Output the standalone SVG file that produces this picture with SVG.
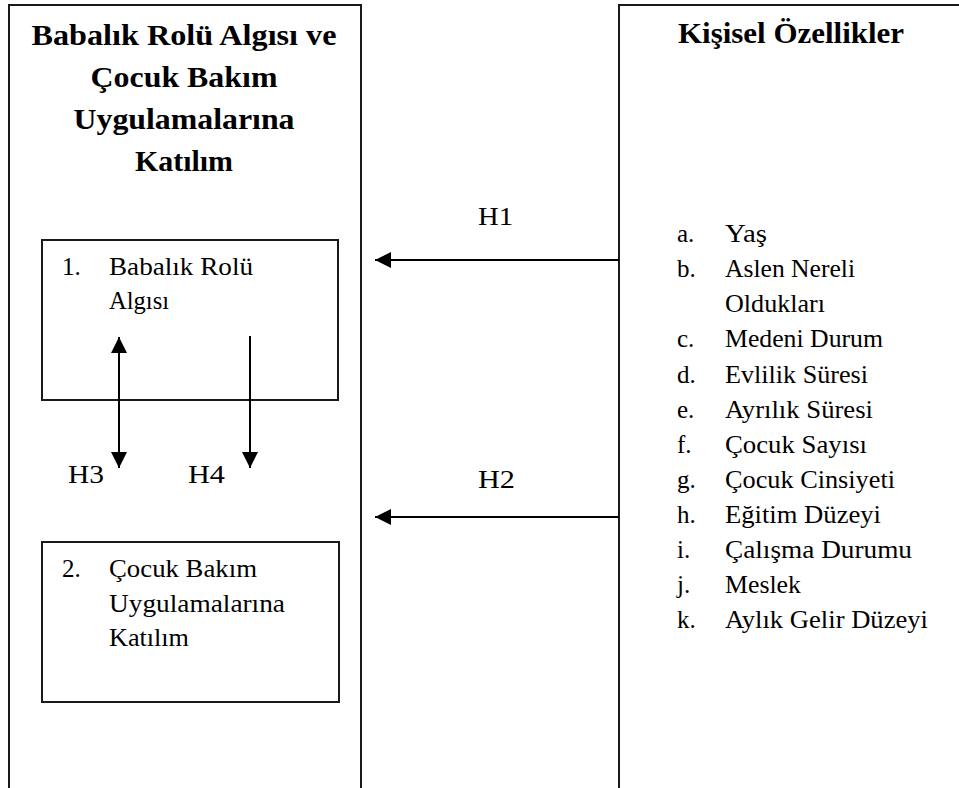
<svg xmlns="http://www.w3.org/2000/svg" width="959" height="788" viewBox="0 0 959 788" font-family="'Liberation Serif', 'DejaVu Serif', serif">
<style>
.box{fill:none;stroke:#1a1a1a;stroke-width:2}
.ln{stroke:#000;stroke-width:2;fill:none}
.t{fill:#000;font-size:25px}
.title{fill:#000;font-size:29px;font-weight:bold;text-anchor:middle}
</style>
<defs>
<marker id="ah" viewBox="0 0 16 16" refX="16" refY="8" markerWidth="16" markerHeight="16" markerUnits="userSpaceOnUse" orient="auto-start-reverse">
<path d="M0,0 L16,8 L0,16 Z" fill="#000"/>
</marker>
</defs>
<rect width="959" height="788" fill="#fff"/>
<g id="left-panel">
<rect class="box" x="9" y="5" width="352" height="784"/>
<text class="title" x="184" y="45" textLength="305" lengthAdjust="spacingAndGlyphs">Babalık Rolü Algısı ve</text>
<text class="title" x="184" y="87" textLength="187" lengthAdjust="spacingAndGlyphs">Çocuk Bakım</text>
<text class="title" x="184" y="129" textLength="221" lengthAdjust="spacingAndGlyphs">Uygulamalarına</text>
<text class="title" x="184" y="171" textLength="98" lengthAdjust="spacingAndGlyphs">Katılım</text>
</g>
<g id="box1">
<rect class="box" x="42" y="240" width="296" height="160"/>
<text class="t" x="62" y="275">1.</text>
<text class="t" x="109" y="275" textLength="144" lengthAdjust="spacingAndGlyphs">Babalık Rolü</text>
<text class="t" x="109" y="309" textLength="60" lengthAdjust="spacingAndGlyphs">Algısı</text>
</g>
<g id="box2">
<rect class="box" x="42" y="542" width="297" height="160"/>
<text class="t" x="62" y="577">2.</text>
<text class="t" x="109" y="577" textLength="148" lengthAdjust="spacingAndGlyphs">Çocuk Bakım</text>
<text class="t" x="109" y="612" textLength="176" lengthAdjust="spacingAndGlyphs">Uygulamalarına</text>
<text class="t" x="109" y="646" textLength="80" lengthAdjust="spacingAndGlyphs">Katılım</text>
</g>
<g id="right-panel">
<rect class="box" x="619" y="5" width="400" height="784"/>
<text class="title" x="791" y="43" textLength="226" lengthAdjust="spacingAndGlyphs">Kişisel Özellikler</text>
<text class="t" x="677" y="242">a.</text><text class="t" x="725" y="242" textLength="42" lengthAdjust="spacingAndGlyphs">Yaş</text>
<text class="t" x="677" y="277">b.</text><text class="t" x="725" y="277" textLength="130" lengthAdjust="spacingAndGlyphs">Aslen Nereli</text>
<text class="t" x="725" y="312" textLength="100" lengthAdjust="spacingAndGlyphs">Oldukları</text>
<text class="t" x="677" y="347">c.</text><text class="t" x="725" y="347" textLength="158" lengthAdjust="spacingAndGlyphs">Medeni Durum</text>
<text class="t" x="677" y="383">d.</text><text class="t" x="725" y="383" textLength="143" lengthAdjust="spacingAndGlyphs">Evlilik  Süresi</text>
<text class="t" x="677" y="418">e.</text><text class="t" x="725" y="418" textLength="148" lengthAdjust="spacingAndGlyphs">Ayrılık Süresi</text>
<text class="t" x="677" y="453">f.</text><text class="t" x="725" y="453" textLength="142" lengthAdjust="spacingAndGlyphs">Çocuk Sayısı</text>
<text class="t" x="677" y="488">g.</text><text class="t" x="725" y="488" textLength="170" lengthAdjust="spacingAndGlyphs">Çocuk Cinsiyeti</text>
<text class="t" x="677" y="523">h.</text><text class="t" x="725" y="523" textLength="156" lengthAdjust="spacingAndGlyphs">Eğitim  Düzeyi</text>
<text class="t" x="677" y="558">i.</text><text class="t" x="725" y="558" textLength="187" lengthAdjust="spacingAndGlyphs">Çalışma Durumu</text>
<text class="t" x="677" y="593">j.</text><text class="t" x="725" y="593" textLength="76" lengthAdjust="spacingAndGlyphs">Meslek</text>
<text class="t" x="677" y="628">k.</text><text class="t" x="725" y="628" textLength="203" lengthAdjust="spacingAndGlyphs">Aylık Gelir Düzeyi</text>
</g>
<g id="connectors">
<line class="ln" x1="619" y1="260" x2="375" y2="260" marker-end="url(#ah)"/>
<line class="ln" x1="619" y1="517" x2="375" y2="517" marker-end="url(#ah)"/>
<line class="ln" x1="119" y1="337" x2="119" y2="468" marker-start="url(#ah)" marker-end="url(#ah)"/>
<line class="ln" x1="250" y1="336" x2="250" y2="468" marker-end="url(#ah)"/>
<text class="t" x="478" y="225" textLength="35" lengthAdjust="spacingAndGlyphs">H1</text>
<text class="t" x="478" y="488" textLength="37" lengthAdjust="spacingAndGlyphs">H2</text>
<text class="t" x="68" y="483" textLength="36" lengthAdjust="spacingAndGlyphs">H3</text>
<text class="t" x="188" y="483" textLength="37" lengthAdjust="spacingAndGlyphs">H4</text>
</g>
</svg>
